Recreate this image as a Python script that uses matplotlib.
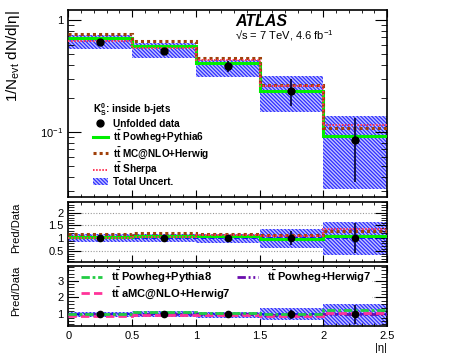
import matplotlib.pyplot as plt
from matplotlib.lines import Line2D
from matplotlib.patches import Patch
from matplotlib.ticker import MultipleLocator, FixedLocator, FixedFormatter, NullFormatter

plt.rcParams['font.family'] = ['Liberation Sans', 'DejaVu Sans']
plt.rcParams['mathtext.fontset'] = 'custom'
plt.rcParams['mathtext.rm'] = 'Liberation Sans'
plt.rcParams['mathtext.it'] = 'Liberation Sans:italic'
plt.rcParams['mathtext.bf'] = 'Liberation Sans:bold'
plt.rcParams['hatch.linewidth'] = 0.9

# |eta| bins
edges = [0.0, 0.5, 1.0, 1.5, 2.0, 2.5]
centres = [0.25, 0.75, 1.25, 1.75, 2.25]

# unfolded data and its error
data = [0.640, 0.530, 0.386, 0.234, 0.085]
data_err = [0.022, 0.035, 0.045, 0.063, 0.049]

# total uncertainty band (absolute)
band_lo = [0.557, 0.461, 0.313, 0.150, 0.031]
band_hi = [0.742, 0.620, 0.444, 0.316, 0.139]

# predictions shown in the main panel
powheg_py6 = [0.685, 0.583, 0.417, 0.232, 0.093]
mcatnlo_hw = [0.749, 0.647, 0.455, 0.264, 0.108]
sherpa = [0.653, 0.562, 0.440, 0.257, 0.116]

# ratios shown only in the lower panel
powheg_py8_ratio = [1.04, 1.13, 1.10, 1.04, 1.24]
amcnlo_hw7_ratio = [0.93, 0.97, 0.97, 0.93, 1.06]
powheg_hw7_ratio = [1.00, 1.02, 1.02, 0.97, 1.03]

TT = r'$\mathbf{t\bar{t}}$'

ratio = lambda v: [a / b for a, b in zip(v, data)]

fig = plt.figure(figsize=(4.56, 3.54), dpi=100)
ax = fig.add_axes([0.1498, 0.4443, 0.6990, 0.5274])
ax_r1 = fig.add_axes([0.1498, 0.2599, 0.6990, 0.1686])
ax_r2 = fig.add_axes([0.1498, 0.0782, 0.6990, 0.1704])

band_col = '#2f2fff'
band_fill = '#c4c4ff'
hatch = '\\' * 9
err_col = '#000033'

# ---- main panel
ax.stairs(band_hi, edges, baseline=band_lo, fill=True, facecolor=band_fill,
          edgecolor=band_col, hatch=hatch, linewidth=0, zorder=1)
ax.stairs(powheg_py6, edges, baseline=None, color='#00ee00', lw=2.2, zorder=3)
ax.stairs(mcatnlo_hw, edges, baseline=None, color='#a0400a', lw=2.2,
          linestyle=(0, (1, 1)), zorder=4)
ax.stairs(sherpa, edges, baseline=None, color='#ff3355', lw=1.4,
          linestyle=(0, (0.8, 0.8)), zorder=5)
ax.errorbar(centres, data, yerr=data_err, fmt='o', color='black', ecolor=err_col,
            ms=5, elinewidth=1.2, capsize=0, zorder=6)

ax.set_yscale('log')
ax.set_xlim(0, 2.5)
ax.set_ylim(0.0264, 1.23)
ax.yaxis.set_major_locator(FixedLocator([0.1, 1.0]))
ax.yaxis.set_major_formatter(FixedFormatter([r'$10^{-1}$', '1']))
minors = [m * 10.0 ** e for e in (-2, -1, 0) for m in range(2, 10)]
ax.yaxis.set_minor_locator(FixedLocator(minors))
ax.yaxis.set_minor_formatter(NullFormatter())
ax.set_ylabel(r'1/N$_{\mathrm{evt}}$ dN/d|η|', fontsize=11, loc='top')
ax.yaxis.set_label_coords(-0.145, 1.0)

ax.text(0.524, 0.912, 'ATLAS', transform=ax.transAxes, fontsize=11.5,
        fontweight='bold', fontstyle='italic')
ax.text(0.524, 0.842, r'√s = 7 TeV, 4.6 fb$^{-1}$', transform=ax.transAxes, fontsize=8)

handles = [
    Line2D([], [], marker='o', color='black', ls='none', ms=5),
    Line2D([], [], color='#00ee00', lw=2.2),
    Line2D([], [], color='#a0400a', lw=2.2, ls=(0, (1, 1))),
    Line2D([], [], color='#ff3355', lw=1.4, ls=(0, (0.8, 0.8))),
    Patch(facecolor=band_fill, edgecolor=band_col, hatch=hatch, lw=0),
]
labels = ['Unfolded data', TT + ' Powheg+Pythia6', TT + ' MC@NLO+Herwig',
          TT + ' Sherpa', 'Total Uncert.']
leg = ax.legend(handles, labels, loc='upper left', bbox_to_anchor=(0.077, 0.51),
                frameon=False, title=r'K$^{\mathbf{0}}_{\mathbf{S}}$: inside b-jets',
                alignment='left', prop={'weight': 'bold', 'size': 7.2},
                handlelength=1.5, handletextpad=0.5, labelspacing=0.02,
                borderpad=0, borderaxespad=0)
leg.get_title().set_fontweight('bold')
leg.get_title().set_fontsize(7.2)

# ---- ratio panel 1
ax_r1.stairs(ratio(band_hi), edges, baseline=ratio(band_lo), fill=True, facecolor=band_fill,
             edgecolor=band_col, hatch=hatch, linewidth=0, zorder=1)
for g in (0.5, 1.5, 2.0):
    ax_r1.axhline(g, color='#999999', lw=0.8, ls=(0, (1, 1.5)), zorder=0)
ax_r1.stairs(ratio(powheg_py6), edges, baseline=None, color='#00ee00', lw=2.2, zorder=3)
ax_r1.stairs(ratio(mcatnlo_hw), edges, baseline=None, color='#a0400a', lw=2.2,
             linestyle=(0, (1, 1)), zorder=4)
ax_r1.stairs(ratio(sherpa), edges, baseline=None, color='#ff3355', lw=1.4,
             linestyle=(0, (0.8, 0.8)), zorder=5)
ax_r1.axhline(1.0, color='#0000ff', lw=1.2, ls=(0, (3, 2)), zorder=2)
ax_r1.errorbar(centres, [1.0] * 5, yerr=ratio(data_err), fmt='o', color='black',
               ecolor=err_col, ms=4.5, elinewidth=1.2, capsize=0, zorder=6)
ax_r1.set_xlim(0, 2.5)
ax_r1.set_ylim(0.08, 2.4)
ax_r1.yaxis.set_major_locator(FixedLocator([0.5, 1.0, 1.5, 2.0]))
ax_r1.yaxis.set_major_formatter(FixedFormatter(['0.5', '1', '1.5', '2']))
ax_r1.yaxis.set_minor_locator(MultipleLocator(0.1))
ax_r1.set_ylabel('Pred/Data', fontsize=8, loc='top')
ax_r1.yaxis.set_label_coords(-0.148, 1.0)

# ---- ratio panel 2
ax_r2.stairs(ratio(band_hi), edges, baseline=ratio(band_lo), fill=True, facecolor=band_fill,
             edgecolor=band_col, hatch=hatch, linewidth=0, zorder=1)
for g in (2.0, 3.0):
    ax_r2.axhline(g, color='#999999', lw=0.8, ls=(0, (1, 1.5)), zorder=0)
ax_r2.axhline(1.0, color='#0000ff', lw=1.2, ls=(0, (3, 2)), zorder=2)
ax_r2.stairs(powheg_hw7_ratio, edges, baseline=None, color='#6a0dad', lw=2.0,
             linestyle=(0, (3, 1, 0.7, 1, 0.7, 1, 0.7, 1)), zorder=3)
ax_r2.stairs(amcnlo_hw7_ratio, edges, baseline=None, color='#ff3399', lw=2.0,
             linestyle=(0, (3, 1.5)), zorder=4)
ax_r2.stairs(powheg_py8_ratio, edges, baseline=None, color='#22cc44', lw=2.0,
             linestyle=(0, (3, 1, 1, 1)), zorder=5)
ax_r2.errorbar(centres, [1.0] * 5, yerr=ratio(data_err), fmt='o', color='black',
               ecolor=err_col, ms=4.5, elinewidth=1.2, capsize=0, zorder=6)
ax_r2.set_xlim(0, 2.5)
ax_r2.set_ylim(0.29, 3.86)
ax_r2.yaxis.set_major_locator(FixedLocator([1, 2, 3]))
ax_r2.yaxis.set_minor_locator(MultipleLocator(0.2))
ax_r2.set_ylabel('Pred/Data', fontsize=8, loc='top')
ax_r2.yaxis.set_label_coords(-0.148, 1.0)
ax_r2.xaxis.set_major_formatter(FixedFormatter(['0', '0.5', '1', '1.5', '2', '2.5']))
ax_r2.xaxis.set_major_locator(FixedLocator([0, 0.5, 1, 1.5, 2, 2.5]))

h2 = [
    Line2D([], [], color='#22cc44', lw=2.0, ls=(0, (3, 1, 1, 1))),
    Line2D([], [], color='#ff3399', lw=2.0, ls=(0, (3, 1.5))),
    Line2D([], [], color='#6a0dad', lw=2.0, ls=(0, (3, 1, 0.7, 1, 0.7, 1, 0.7, 1))),
]
l2 = [TT + ' Powheg+Pythia8', TT + ' aMC@NLO+Herwig7', TT + ' Powheg+Herwig7']
leg2 = ax_r2.legend(h2, l2, ncol=2, loc='upper left', bbox_to_anchor=(0.035, 0.97),
                    frameon=True, facecolor='white', edgecolor='none', framealpha=1,
                    fancybox=False, prop={'weight': 'bold', 'size': 8},
                    handlelength=1.9, handletextpad=0.8, columnspacing=0.6,
                    labelspacing=0.0, borderpad=0.1, borderaxespad=0)
leg2.set_zorder(10)

fig.text(0.849, 0.004, '|η|', fontsize=8, ha='right', va='bottom')

for a in (ax, ax_r1, ax_r2):
    a.xaxis.set_minor_locator(MultipleLocator(0.1))
    a.tick_params(which='both', direction='in', top=True, right=True, labelsize=8)
    a.tick_params(axis='x', which='major', length=5)
    a.tick_params(axis='x', which='minor', length=2.5)
    a.tick_params(axis='y', which='major', length=9)
    a.tick_params(axis='y', which='minor', length=4.5)
    for s in a.spines.values():
        s.set_linewidth(1.2)
for a in (ax, ax_r1):
    a.tick_params(labelbottom=False)

fig.savefig('out.png', dpi=100)
